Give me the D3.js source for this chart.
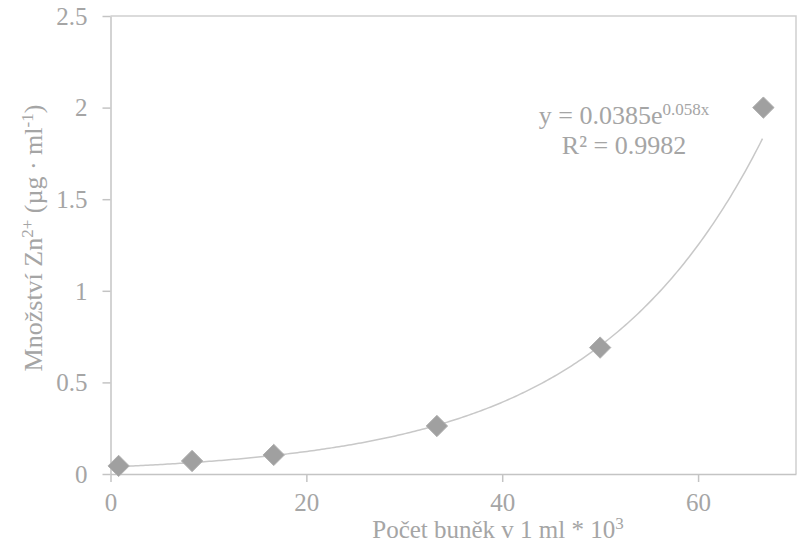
<!DOCTYPE html>
<html><head><meta charset="utf-8">
<script src="https://cdn.jsdelivr.net/npm/d3@7"></script>
<style>
html,body{margin:0;padding:0;background:#fff;}
svg{display:block;}
svg text{font-family:"Liberation Serif","Times New Roman",serif !important;}
</style></head>
<body><svg id="c" width="804" height="552"></svg>
<script>
// Data
const cellCounts = [0.83, 8.33, 16.67, 33.33, 50, 66.67];
const zincValues = [0.044, 0.071, 0.104, 0.262, 0.69, 2.0];
const xTicks = [0, 20, 40, 60];
const yTicks = [0, 0.5, 1, 1.5, 2, 2.5];
const yTickLabels = ["0", "0.5", "1", "1.5", "2", "2.5"];
const trendA = 0.0385, trendB = 0.058, trendR2 = "0.9982";

const svg = d3.select("#c");
const pLeft = 110.5, pRight = 796, pTop = 16, pBottom = 474;
const x = d3.scaleLinear().domain([0, 70]).range([pLeft, pRight]);
const y = d3.scaleLinear().domain([0, 2.5]).range([pBottom, pTop]);
const lineCol = "#c4c4c4", textCol = "#a5a5a5";

// plot border (top & right)
svg.append("path")
  .attr("d", `M${pLeft},${pTop}H${pRight}V${pBottom}`)
  .attr("fill","none").attr("stroke","#cfcfcf").attr("stroke-width",1.5);

// axes
const xAxis = svg.append("g").attr("transform",`translate(0,${pBottom})`)
  .call(d3.axisBottom(x).tickValues(xTicks).tickSize(8).tickPadding(11).tickSizeOuter(0));
const yAxis = svg.append("g").attr("transform",`translate(${pLeft},0)`)
  .call(d3.axisLeft(y).tickValues(yTicks).tickFormat((d,i)=>yTickLabels[i]).tickSize(8).tickPadding(15).tickSizeOuter(0));
[xAxis,yAxis].forEach(g=>{
  g.select(".domain").attr("stroke",lineCol).attr("stroke-width",1.5);
  g.selectAll(".tick line").attr("stroke",lineCol).attr("stroke-width",1.5);
  g.selectAll("text").attr("fill",textCol).style("font-size","25px");
});
yAxis.selectAll("text").attr("dy","0.33em");

// trendline from the fitted equation
const xs = d3.range(cellCounts[0], cellCounts[cellCounts.length-1]+0.001, 0.25);
svg.append("path")
  .datum(xs)
  .attr("d", d3.line().x(d=>x(d)).y(d=>y(trendA*Math.exp(trendB*d))))
  .attr("fill","none").attr("stroke","#c8c8c8").attr("stroke-width",1.5);

// diamond markers
const sym = d3.symbol().type(d3.symbolDiamond2).size(290);
svg.append("g").selectAll("path").data(cellCounts).join("path")
  .attr("transform",(d,i)=>`translate(${x(d)},${y(zincValues[i])})`)
  .attr("d", sym)
  .attr("fill","#a0a0a0").attr("stroke","#b0b0b0").attr("stroke-width",1);

// equation
const eq = svg.append("text").attr("x",624).attr("y",124).attr("text-anchor","middle")
  .attr("fill",textCol).style("font-size","26px");
eq.append("tspan").text("y = 0.0385e");
eq.append("tspan").style("font-size","17px").attr("dy",-9).text("0.058x");
svg.append("text").attr("x",624).attr("y",154).attr("text-anchor","middle")
  .attr("fill",textCol).style("font-size","26px").text("R² = " + trendR2);

// x title
const xt = svg.append("text").attr("x",498).attr("y",538).attr("text-anchor","middle")
  .attr("fill",textCol).style("font-size","25px");
xt.append("tspan").text("Počet buněk v 1 ml * 10");
xt.append("tspan").style("font-size","17px").attr("dy",-9).text("3");

// y title
const yt = svg.append("text").attr("transform","translate(42,238) rotate(-90)")
  .attr("text-anchor","middle").attr("fill",textCol).style("font-size","26px");
yt.append("tspan").text("Množství Zn");
yt.append("tspan").style("font-size","17px").attr("dy",-9).text("2+");
yt.append("tspan").attr("dy",9).text(" (µg · ml");
yt.append("tspan").style("font-size","17px").attr("dy",-9).text("-1");
yt.append("tspan").attr("dy",9).text(")");
</script></body></html>
